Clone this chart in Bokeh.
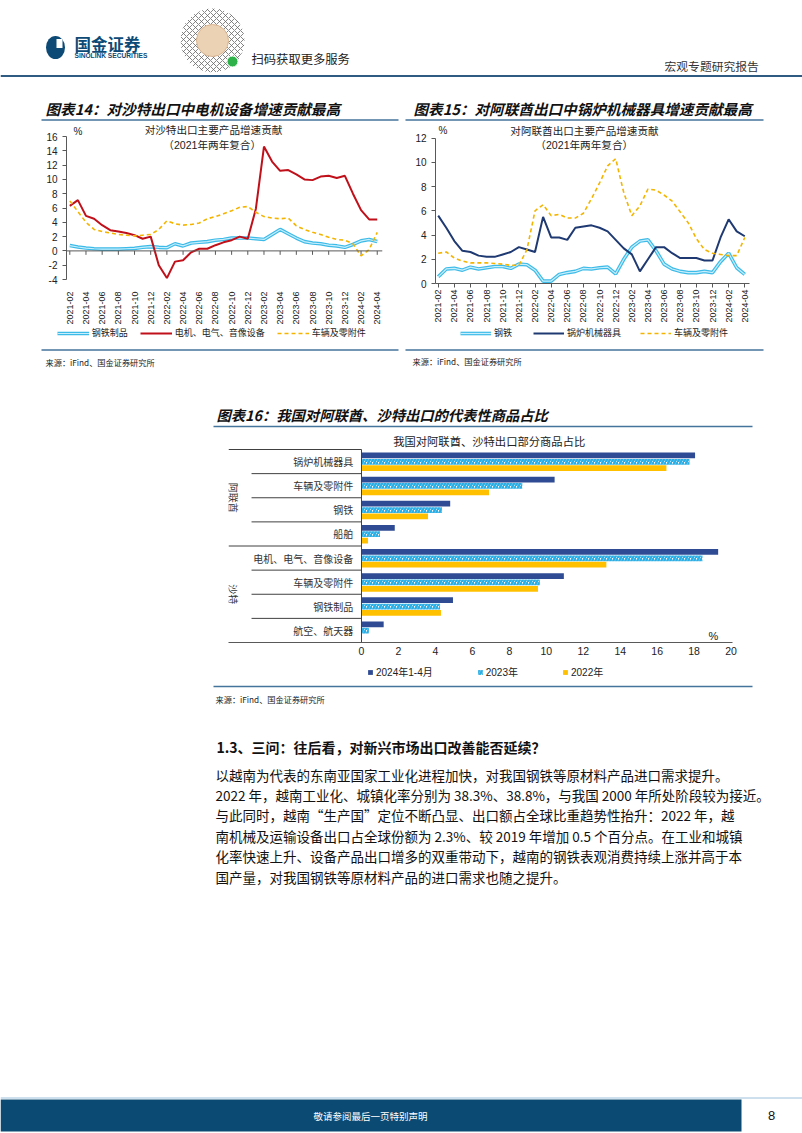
import math
from bokeh.plotting import figure
from bokeh.models import Range1d, FixedTicker, Span, Legend, LegendItem
from bokeh.layouts import column, row
from bokeh.embed import file_html
from bokeh.resources import INLINE
from bokeh.core.properties import value

CJK = "Noto Sans CJK SC"
LAT = "Liberation Sans"
MIX = "Liberation Sans, Noto Sans CJK SC"
NARROW = "Liberation Sans Narrow, Noto Sans CJK SC"
NAVY = "#0d4a75"
AXIS = "#595959"
RULE = "#44739c"

# ---------------- data ----------------
months = []
for yr in range(2021, 2025):
    for mo in range(1, 13):
        if (2021, 2) <= (yr, mo) <= (2024, 4):
            months.append(f"{yr}-{mo:02d}")

# Chart 14: exports to Saudi Arabia, contribution (%)
steel_sa = [0.75, 0.55, 0.4, 0.3, 0.25, 0.25, 0.25, 0.3, 0.35, 0.5, 0.6, 0.5, 0.45,
            1.0, 0.7, 1.1, 1.2, 1.3, 1.5, 1.6, 1.8, 1.8, 1.8, 1.7, 1.6, 2.3, 3.0,
            2.4, 1.8, 1.3, 1.1, 1.0, 0.8, 0.7, 0.5, 0.9, 1.4, 1.6, 1.3]
elec_sa = [6.3, 7.1, 4.9, 4.5, 3.6, 2.9, 2.7, 2.5, 2.2, 1.7, 2.0, -2.0, -3.8,
           -1.5, -1.3, -0.2, 0.3, 0.3, 0.8, 1.2, 1.5, 2.0, 1.7, 5.9, 14.6, 12.5, 11.2,
           11.3, 10.7, 10.0, 9.9, 10.4, 10.5, 10.2, 10.5, 8.0, 5.7, 4.4, 4.4]
auto_sa = [7.0, 5.5, 4.0, 3.0, 2.7, 2.5, 2.3, 2.2, 2.1, 2.2, 2.3, 3.0, 4.2,
           3.8, 3.6, 3.7, 3.9, 4.5, 4.8, 5.2, 5.6, 6.1, 6.2, 5.4, 4.8, 4.6, 4.5,
           4.6, 3.5, 3.0, 2.6, 2.3, 1.9, 1.6, 1.5, 1.0, -0.7, 0.2, 2.6]

# Chart 15: exports to the UAE, contribution (%)
steel_ae = [0.55, 1.2, 1.25, 1.1, 1.35, 1.2, 1.3, 1.4, 1.4, 1.25, 1.6, 1.55, 1.1,
            0.2, 0.2, 0.75, 0.9, 1.0, 1.25, 1.2, 1.3, 1.35, 0.8, 2.0, 3.0, 3.5, 3.6,
            2.7, 1.6, 1.2, 1.0, 0.9, 0.9, 1.0, 0.9, 1.8, 2.5, 1.3, 0.75]
boiler_ae = [5.6, 4.6, 3.5, 2.7, 2.6, 2.3, 2.2, 2.2, 2.4, 2.6, 3.0, 2.8, 2.6,
             5.5, 3.8, 3.8, 3.6, 4.6, 4.7, 4.8, 4.6, 4.3, 3.6, 2.9, 2.4, 1.0, 2.0,
             3.0, 3.0, 2.5, 2.1, 2.1, 2.1, 1.9, 1.9, 3.8, 5.3, 4.3, 3.9]
auto_ae = [2.5, 2.6, 2.1, 1.85, 1.7, 1.7, 1.7, 1.65, 1.6, 1.5, 1.5, 2.8, 6.0,
           6.5, 5.6, 5.7, 5.4, 5.4, 5.8, 7.0, 8.3, 9.7, 10.3, 7.5, 5.6, 6.4, 7.8,
           7.7, 7.3, 6.8, 5.9, 5.0, 3.7, 2.8, 2.5, 2.4, 2.3, 2.3, 3.8]

# Chart 16: share of exports (%)
bar_groups = ["阿联酋", "沙特"]
uae_cats = ["锅炉机械器具", "车辆及零附件", "钢铁", "船舶"]
sau_cats = ["电机、电气、音像设备", "车辆及零附件", "钢铁制品", "航空、航天器"]
share_2024 = [18.05, 10.45, 4.8, 1.8, 19.3, 10.95, 4.95, 1.2]
share_2023 = [17.75, 8.7, 4.35, 1.0, 18.45, 9.65, 4.25, 0.4]
share_2022 = [16.5, 6.9, 3.6, 0.35, 13.25, 9.55, 4.3, 0.0]
series16 = ["2024年1-4月", "2023年", "2022年"]

body_heading = "1.3、三问：往后看，对新兴市场出口改善能否延续？"
body_lines = [
    "以越南为代表的东南亚国家工业化进程加快，对我国钢铁等原材料产品进口需求提升。",
    "2022 年，越南工业化、城镇化率分别为 38.3%、38.8%，与我国 2000 年所处阶段较为接近。",
    "与此同时，越南“生产国”定位不断凸显、出口额占全球比重趋势性抬升：2022 年，越",
    "南机械及运输设备出口占全球份额为 2.3%、较 2019 年增加 0.5 个百分点。在工业和城镇",
    "化率快速上升、设备产品出口增多的双重带动下，越南的钢铁表观消费持续上涨并高于本",
    "国产量，对我国钢铁等原材料产品的进口需求也随之提升。",
]
source_text = "来源：iFind、国金证券研究所"

STEEL_C, STEEL_IN = "#3dbbe8", "#c8eefb"
ELEC_C, BOIL_C, AUTO_C = "#c0101a", "#1f3a72", "#f4b400"
C24, C23, C22 = "#2f4b93", "#2aaee4", "#ffc000"


# ---------------- helpers ----------------
def decor(x0, y0, w, h):
    p = figure(width=w, height=h, x_range=Range1d(x0, x0 + w), y_range=Range1d(y0 + h, y0),
               x_axis_location=None, y_axis_location=None, toolbar_location=None,
               output_backend="svg", min_border=0, title=None)
    p.grid.grid_line_color = None
    p.outline_line_color = None
    return p


def txt(p, x, y, s, size, font=CJK, color="#111111", align="left", style="normal", angle=0.0):
    p.text(x=[x], y=[y], text=[s], text_font=value(font), text_font_size=f"{size}px",
           text_color=color, text_align=align, text_baseline="middle",
           text_font_style=style, angle=angle)


def hline(p, x0, x1, y, color=RULE, width=1.5):
    p.line(x=[x0, x1], y=[y, y], line_color=color, line_width=width)


def style_common(p):
    p.grid.grid_line_color = None
    p.outline_line_color = None


def make_legend(items, loc, gw, gh, spacing, font=CJK, size="9px", standoff=3):
    return Legend(items=items, orientation="horizontal", location=loc, glyph_width=gw,
                  glyph_height=gh, label_height=10, label_standoff=standoff, spacing=spacing,
                  padding=0, margin=0, label_text_font=font, label_text_font_size=size,
                  label_text_color="#222222", label_text_baseline="middle",
                  border_line_color=None, background_fill_alpha=0)


def box(p):
    return row(p)


idx = list(range(len(months)))
even_ticks = idx[::2]
label_map = {i: months[i] for i in even_ticks}


def line_axes(p, ymin, ymax, ystep, show_xline):
    yt = list(range(ymin, ymax + 1, ystep))
    p.yaxis.ticker = FixedTicker(ticks=yt)
    p.yaxis.major_label_overrides = {t: str(t) for t in yt}
    p.yaxis.bounds = (ymin, ymax)
    p.yaxis.axis_line_color = AXIS
    p.yaxis.major_tick_line_color = AXIS
    p.yaxis.major_tick_out = 4
    p.yaxis.major_tick_in = 0
    p.yaxis.major_label_standoff = 5
    p.yaxis.major_label_text_font = LAT
    p.yaxis.major_label_text_font_size = "10px"
    p.yaxis.major_label_text_color = "#222222"
    p.xaxis.ticker = FixedTicker(ticks=even_ticks)
    p.xaxis.major_label_overrides = label_map
    p.xaxis.major_label_orientation = math.pi / 2
    p.xaxis.major_label_text_font = LAT
    p.xaxis.major_label_text_font_size = "9px"
    p.xaxis.major_label_text_color = "#222222"
    if show_xline:
        p.xaxis.axis_line_color = AXIS
        p.xaxis.major_tick_line_color = AXIS
        p.xaxis.major_tick_out = 4
        p.xaxis.major_tick_in = 0
        p.xaxis.major_label_standoff = 2
    else:
        p.xaxis.axis_line_color = None
        p.xaxis.major_tick_line_color = None
        p.xaxis.major_label_standoff = 6


# ---------------- header ----------------
header = decor(0, 0, 802, 96)
header.ellipse(x=[55], y=[47], width=[19], height=[23], fill_color=NAVY, line_color=None)
header.rect(x=[59], y=[43], width=[6], height=[9], fill_color="white", line_color=None)
txt(header, 74, 43, "国金证券", 16.5, color=NAVY, style="bold")
txt(header, 74, 55, "SINOLINK SECURITIES", 6.6, font=LAT, color=NAVY, style="bold")
header.ellipse(x=[212], y=[40], width=[64], height=[64], fill_color="white", line_color=None,
               hatch_pattern="x", hatch_color="#666666", hatch_scale=6, hatch_weight=0.8)
header.ellipse(x=[212], y=[40], width=[32], height=[32], fill_color="#ecd2b5", line_color="#d9b48e")
header.ellipse(x=[232], y=[61], width=[11], height=[11], fill_color="#2fb14a", line_color="white")
txt(header, 251, 58, "扫码获取更多服务", 12.3, color="#222222")
txt(header, 664, 65, "宏观专题研究报告", 11.8, color="#333333")
hline(header, 0, 802, 75.5, color="#2f5a82", width=1.8)

# ---------------- chart 14 block ----------------
t14 = decor(0, 96, 402, 25)
txt(t14, 45, 108, "图表14：对沙特出口中电机设备增速贡献最高", 14.6, style="bold italic")
hline(t14, 41, 398, 119.5)

p14 = figure(width=402, height=206, x_range=Range1d(-0.408, 38.65), y_range=Range1d(-4, 18.1),
             toolbar_location=None, output_backend="svg", title=None,
             min_border_left=66, min_border_right=20, min_border_top=0, min_border_bottom=44)
style_common(p14)
line_axes(p14, -4, 16, 2, False)
p14.add_layout(Span(location=0, dimension="width", line_color=AXIS, line_width=1))
p14.segment(x0=even_ticks, y0=[0] * len(even_ticks), x1=even_ticks, y1=[-0.55] * len(even_ticks),
            line_color=AXIS, line_width=1)
p14.line(idx, steel_sa, line_color=STEEL_C, line_width=3.6)
p14.line(idx, steel_sa, line_color=STEEL_IN, line_width=1.2)
p14.line(idx, elec_sa, line_color=ELEC_C, line_width=2)
p14.line(idx, auto_sa, line_color=AUTO_C, line_width=1.6, line_dash="4 3")
p14.text(x=[17.76, 17.6], y=[16.87, 14.83], text=["对沙特出口主要产品增速贡献", "（2021年两年复合）"],
         text_font=value(MIX), text_font_size="10.6px", text_align="center", text_baseline="middle",
         text_color="#222222")
p14.text(x=[1.0], y=[16.74], text=["%"], text_font=value(LAT), text_font_size="10px",
         text_align="center", text_baseline="middle", text_color="#222222")

# legend swatches: single-point renderers (a one-point line draws nothing)
l14 = decor(0, 327, 402, 50)
g1 = l14.line(x=[idx[0]], y=[steel_sa[0]], line_color=STEEL_C, line_width=3.6)
g2 = l14.line(x=[idx[0]], y=[steel_sa[0]], line_color=STEEL_IN, line_width=1.2)
g3 = l14.line(x=[idx[0]], y=[elec_sa[0]], line_color=ELEC_C, line_width=2)
g4 = l14.line(x=[idx[0]], y=[auto_sa[0]], line_color=AUTO_C, line_width=1.6, line_dash="4 3")
l14.add_layout(make_legend([LegendItem(label="钢铁制品", renderers=[g1, g2]),
                            LegendItem(label="电机、电气、音像设备", renderers=[g3]),
                            LegendItem(label="车辆及零附件", renderers=[g4])],
                           (56.7, 38), 32, 8, 12))
hline(l14, 41, 398, 349.5)
txt(l14, 45, 361, source_text, 8.2, color="#222222")

# ---------------- chart 15 block ----------------
t15 = decor(402, 96, 400, 25)
txt(t15, 413, 108, "图表15：对阿联酋出口中锅炉机械器具增速贡献最高", 14.6, style="bold italic")
hline(t15, 405, 763, 119.5)

p15 = figure(width=400, height=206, x_range=Range1d(-0.335, 38.71), y_range=Range1d(0, 13.37),
             toolbar_location=None, output_backend="svg", title=None,
             min_border_left=33, min_border_right=52, min_border_top=0, min_border_bottom=44)
style_common(p15)
line_axes(p15, 0, 12, 2, True)
p15.xaxis.bounds = (-0.335, 38.6)
p15.line(idx, steel_ae, line_color=STEEL_C, line_width=3.6)
p15.line(idx, steel_ae, line_color=STEEL_IN, line_width=1.2)
p15.line(idx, boiler_ae, line_color=BOIL_C, line_width=2)
p15.line(idx, auto_ae, line_color=AUTO_C, line_width=1.6, line_dash="4 3")
p15.text(x=[18.13, 18.1], y=[12.62, 11.39], text=["对阿联酋出口主要产品增速贡献", "（2021年两年复合）"],
         text_font=value(MIX), text_font_size="10.6px", text_align="center", text_baseline="middle",
         text_color="#222222")
p15.text(x=[0.6], y=[12.62], text=["%"], text_font=value(LAT), text_font_size="10px",
         text_align="center", text_baseline="middle", text_color="#222222")

l15 = decor(402, 327, 400, 50)
h1 = l15.line(x=[idx[0]], y=[steel_ae[0]], line_color=STEEL_C, line_width=3.6)
h2 = l15.line(x=[idx[0]], y=[steel_ae[0]], line_color=STEEL_IN, line_width=1.2)
h3 = l15.line(x=[idx[0]], y=[boiler_ae[0]], line_color=BOIL_C, line_width=2)
h4 = l15.line(x=[idx[0]], y=[auto_ae[0]], line_color=AUTO_C, line_width=1.6, line_dash="4 3")
l15.add_layout(make_legend([LegendItem(label="钢铁", renderers=[h1, h2]),
                            LegendItem(label="锅炉机械器具", renderers=[h3]),
                            LegendItem(label="车辆及零附件", renderers=[h4])],
                           (58, 38), 31, 8, 19))
hline(l15, 405, 763, 349.5)
txt(l15, 412, 360, source_text, 8.2, color="#222222")

# ---------------- chart 16 block ----------------
t16 = decor(0, 377, 802, 55)
txt(t16, 216, 414, "图表16：我国对阿联酋、沙特出口的代表性商品占比", 14.3, style="bold italic")
hline(t16, 213, 752, 426)

cats16 = uae_cats + sau_cats
n16 = len(cats16)
rows16 = list(range(n16))
p16 = figure(width=802, height=230, x_range=Range1d(-7.197, 20.076), y_range=Range1d(n16 - 0.5, -1.205),
             y_axis_location=None, toolbar_location=None, output_backend="svg", title=None,
             min_border_left=228, min_border_right=70, min_border_top=0, min_border_bottom=20)
style_common(p16)
p16.xaxis.ticker = FixedTicker(ticks=list(range(0, 21, 2)))
p16.xaxis.axis_line_color = AXIS
p16.xaxis.major_tick_out = 0
p16.xaxis.major_tick_in = 0
p16.xaxis.major_label_standoff = 4
p16.xaxis.major_label_text_font = LAT
p16.xaxis.major_label_text_font_size = "10.5px"
p16.xaxis.major_label_text_color = "#222222"

bh = 0.24
bar24 = dict(fill_color=C24, line_color=None)
bar23 = dict(fill_color="white", line_color=None, hatch_pattern="/", hatch_color=C23,
             hatch_weight=2.5, hatch_scale=6)
bar22 = dict(fill_color=C22, line_color=None)
p16.hbar(y=[k - 0.255 for k in rows16], left=0, right=share_2024, height=bh, **bar24)
p16.hbar(y=[k + 0.01 for k in rows16], left=0, right=share_2023, height=bh, **bar23)
p16.hbar(y=[k + 0.275 for k in rows16], left=0, right=share_2022, height=bh, **bar22)
p16.text(x=[-0.45] * n16, y=rows16, text=cats16, text_font=value(CJK), text_font_size="10px",
         text_align="right", text_baseline="middle", text_color="#333333")
g = len(uae_cats)
inner = [k + 0.5 for k in rows16 if (k + 1) % g != 0]
p16.segment(x0=[-5.95] * len(inner), y0=inner, x1=[0] * len(inner), y1=inner,
            line_color="#404040", line_width=1)
outer = [-0.5, g - 0.5]
p16.segment(x0=[-7.197] * 2, y0=outer, x1=[0] * 2, y1=outer, line_color="#404040", line_width=1)
p16.segment(x0=[0], y0=[-0.5], x1=[0], y1=[n16 - 0.5], line_color="#404040", line_width=1)
p16.text(x=[-6.93, -6.93], y=[(g - 1) / 2, g + (g - 1) / 2], text=bar_groups, text_font=value(CJK),
         text_font_size="10px", text_align="center", text_baseline="middle", text_color="#333333",
         angle=-math.pi / 2)
p16.text(x=[6.91], y=[-0.85], text=["我国对阿联酋、沙特出口部分商品占比"], text_font=value(CJK),
         text_font_size="11.3px", text_align="center", text_baseline="middle", text_color="#222222")
p16.text(x=[19.04], y=[7.25], text=["%"], text_font=value(LAT), text_font_size="11px",
         text_align="center", text_baseline="middle", text_color="#222222")

# legend swatches: zero-width bars (draw nothing themselves)
l16 = decor(0, 662, 802, 50)
k1 = l16.hbar(y=[rows16[0]], left=[0], right=[0], height=bh, **bar24)
k2 = l16.hbar(y=[rows16[0]], left=[0], right=[0], height=bh, **bar23)
k3 = l16.hbar(y=[rows16[0]], left=[0], right=[0], height=bh, **bar22)
l16.add_layout(make_legend([LegendItem(label=series16[0], renderers=[k1]),
                            LegendItem(label=series16[1], renderers=[k2]),
                            LegendItem(label=series16[2], renderers=[k3])],
                           (367, 33), 6, 6, 44, font=MIX, size="10px", standoff=3))
hline(l16, 213, 752, 686)
txt(l16, 215, 698.5, source_text, 8.2, color="#222222")

# ---------------- body text + footer ----------------
body = decor(0, 712, 802, 421)
txt(body, 216, 746, body_heading, 14, font=NARROW, style="bold")
for k, line in enumerate(body_lines):
    txt(body, 215, 774 + k * 20.4, line, 13.5, font=NARROW, color="#111111")
hline(body, 0, 802, 1097.5, color="#9cc0da", width=1)
body.quad(left=[0], right=[741], top=[1099], bottom=[1131], fill_color="#0b4a72", line_color=None)
txt(body, 370, 1115, "敬请参阅最后一页特别声明", 9.5, color="white", align="center")
txt(body, 771, 1115, "8", 13, font=LAT, color="#111111", align="center")

layout = column(box(header),
                row(column(box(t14), box(p14), box(l14)), column(box(t15), box(p15), box(l15))),
                box(t16), box(p16), box(l16), box(body))

open("out.html", "w").write(file_html(layout, INLINE))
